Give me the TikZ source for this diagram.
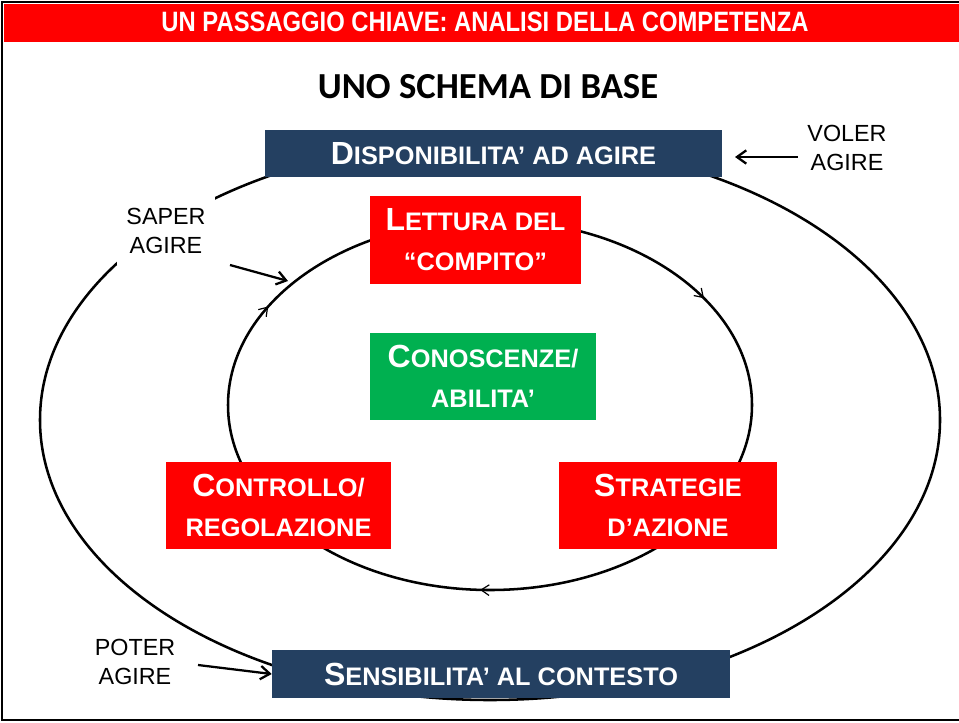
\documentclass[tikz,border=0pt]{standalone}
\usepackage{fontspec}
\setmainfont{Liberation Sans}
\newfontfamily\titlefont{Carlito}
\newfontfamily\narrowfont[FakeStretch=0.85]{Liberation Sans}
\usetikzlibrary{arrows.meta, decorations.markings}
\definecolor{boxred}{RGB}{255,0,0}
\definecolor{boxnavy}{RGB}{36,64,97}
\definecolor{boxgreen}{RGB}{0,176,80}
\newcommand\pxu{0.75pt}
\newcommand\bigfs{\fontsize{24}{30}\selectfont}

\begin{document}
\begin{tikzpicture}[x=0.75pt, y=-0.75pt,
  scbox/.style={text=white, align=center, inner sep=0pt,
    font=\bfseries\fontsize{19}{30}\selectfont},
  navybox/.style={scbox, fill=boxnavy, minimum width=457*\pxu, minimum height=47*\pxu},
  redbox/.style={scbox, fill=boxred, minimum height=87*\pxu},
  greenbox/.style={scbox, fill=boxgreen, minimum height=87*\pxu},
  sidelabel/.style={align=center, fill=white, minimum width=98*\pxu, minimum height=68*\pxu,
    font=\fontsize{17.5}{21.75}\selectfont},
  pointer/.style={-{Straight Barb[length=7pt, width=10pt]}, line width=1.7pt},
  cycle/.style={line width=1.9pt},
  cycletip/.tip={Straight Barb[length=6pt, width=8pt, line width=0.9pt]}]
\useasboundingbox (0,0) rectangle (959,722);

% Frame and header
\fill[boxred] (4,4) rectangle (960,42);
\draw[line width=2.2pt] (2,2) rectangle (963,720);
\node[text=white, font=\narrowfont\bfseries\fontsize{21}{25}\selectfont] (header) at (485,22)
  {UN PASSAGGIO CHIAVE: ANALISI DELLA COMPETENZA};
\node[font=\titlefont\bfseries\fontsize{27.5}{32}\selectfont] (title) at (488,87) {UNO SCHEMA DI BASE};

% Outer and inner cycle
\draw[cycle] (490,420) ellipse [x radius=450, y radius=280];
\draw[cycle, postaction={decorate}, decoration={markings,
    mark=at position 0.257 with {\arrow{cycletip}},
    mark=at position 0.577 with {\arrow{cycletip}},
    mark=at position 0.915 with {\arrow{cycletip}}}]
  (490,405) ellipse [x radius=262, y radius=185];

% Boxes
\node[navybox] (disp) at (493.5,153.5) {{\bigfs D}ISPONIBILITA’ AD AGIRE};
\node[navybox, minimum width=458*\pxu, minimum height=48*\pxu] (sens) at (501,674)
  {{\bigfs S}ENSIBILITA’ AL CONTESTO};
\node[redbox, minimum width=211*\pxu, minimum height=88*\pxu] (lettura) at (475.5,240)
  {{\bigfs L}ETTURA DEL\\“COMPITO”};
\node[greenbox, minimum width=226*\pxu] (conosc) at (483,376.5)
  {{\bigfs C}ONOSCENZE/\\ABILITA’};
\node[redbox, minimum width=225*\pxu] (controllo) at (278.5,505.5)
  {{\bigfs C}ONTROLLO/\\REGOLAZIONE};
\node[redbox, minimum width=218*\pxu] (strategie) at (668,505.5)
  {{\bigfs S}TRATEGIE\\D’AZIONE};

% Side labels
\node[sidelabel] (voler) at (847,148) {VOLER\\AGIRE};
\node[sidelabel] (saper) at (166,231) {SAPER\\AGIRE};
\node[sidelabel] (poter) at (135,662) {POTER\\AGIRE};

\coordinate (volertip) at (735,157);
\coordinate (sapertail) at (230,265);
\coordinate (sapertip) at (288,281);
\coordinate (potertail) at (198,665);

\draw[pointer] (voler.west |- volertip) -- (volertip);
\draw[pointer] (sapertail) -- (sapertip);
\draw[pointer] (potertail) -- (sens.west);
\end{tikzpicture}
\end{document}
